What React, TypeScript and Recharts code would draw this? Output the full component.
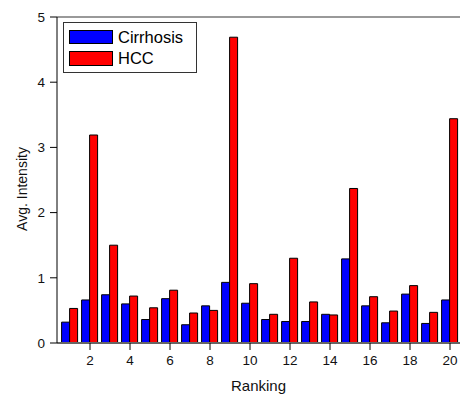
import { BarChart, Bar, XAxis, YAxis, Legend } from 'recharts';

const ranks = [1, 2, 3, 4, 5, 6, 7, 8, 9, 10, 11, 12, 13, 14, 15, 16, 17, 18, 19, 20];
const cirrhosis = [0.32, 0.66, 0.74, 0.6, 0.36, 0.68, 0.28, 0.57, 0.93, 0.61, 0.36, 0.33, 0.33, 0.44, 1.29, 0.57, 0.31, 0.75, 0.3, 0.66];
const hcc = [0.53, 3.19, 1.5, 0.72, 0.54, 0.81, 0.46, 0.5, 4.69, 0.91, 0.44, 1.3, 0.63, 0.43, 2.37, 0.71, 0.49, 0.88, 0.47, 3.44];
const xTicks = [2, 4, 6, 8, 10, 12, 14, 16, 18, 20];
const yTicks = [0, 1, 2, 3, 4, 5];
const yMinorTicks = [0.5, 1.5, 2.5, 3.5, 4.5];

const data = ranks.map((rank, i) => ({ rank, cirrhosis: cirrhosis[i], hcc: hcc[i] }));

const FONT = '"Liberation Sans", Arial, sans-serif';

const legendItems = [
  { name: 'Cirrhosis', color: '#0000ff' },
  { name: 'HCC', color: '#ff0000' },
];

// boxed legend sitting in the upper left of the plot
function BoxLegend() {
  return (
    <div
      style={{
        width: 132,
        height: 49,
        border: '1px solid #333',
        background: '#fff',
        fontFamily: FONT,
        fontSize: 16.5,
        color: '#000',
        position: 'relative',
      }}
    >
      {legendItems.map((item, i) => (
        <div
          key={item.name}
          style={{ position: 'absolute', left: 5, top: 6.5 + i * 21.7, display: 'flex', alignItems: 'center' }}
        >
          <div style={{ width: 42, height: 12.5, background: item.color, border: '1px solid #000' }} />
          <span style={{ marginLeft: 5, lineHeight: '14px' }}>{item.name}</span>
        </div>
      ))}
    </div>
  );
}

export default function App() {
  return (
    <div style={{ position: 'absolute', left: 0, top: 0, width: 460, height: 395, overflow: 'hidden', background: '#fff', fontFamily: FONT }}>
      <BarChart
        width={460}
        height={395}
        data={data}
        margin={{ top: 17, right: 0, bottom: 0, left: 0 }}
        barCategoryGap="8%"
        barGap={0}
      >
        <XAxis
          dataKey="rank"
          height={52}
          padding={{ left: 3, right: 0 }}
          ticks={xTicks}
          interval={0}
          tickSize={7}
          tickMargin={5}
          tick={{ fill: '#111', fontSize: 13.5 }}
          tickLine={{ stroke: '#000' }}
          axisLine={{ stroke: '#666', strokeWidth: 2 }}
          label={{ value: 'Ranking', position: 'insideBottom', offset: 4, fill: '#111', fontSize: 15 }}
        />
        {/* top frame with small inward ticks */}
        <XAxis
          xAxisId="top"
          dataKey="rank"
          orientation="top"
          mirror
          padding={{ left: 3, right: 0 }}
          interval={0}
          tickSize={3}
          tick={false}
          tickLine={{ stroke: '#333' }}
          axisLine={{ stroke: '#777', strokeWidth: 1.5 }}
        />
        <YAxis
          width={57}
          domain={[0, 5]}
          ticks={yTicks}
          interval={0}
          tickSize={7}
          tickMargin={5}
          tick={{ fill: '#111', fontSize: 13.5 }}
          tickLine={{ stroke: '#000' }}
          axisLine={{ stroke: '#000' }}
          label={{ value: 'Avg. Intensity', angle: -90, position: 'center', dx: -6, dy: 9, fill: '#111', fontSize: 14 }}
        />
        {/* minor ticks pointing into the plot */}
        <YAxis
          yAxisId="minor"
          mirror
          domain={[0, 5]}
          ticks={yMinorTicks}
          interval={0}
          tickSize={3}
          tick={false}
          tickLine={{ stroke: '#000' }}
          axisLine={false}
        />
        <YAxis
          yAxisId="right"
          orientation="right"
          width={0}
          domain={[0, 5]}
          tick={false}
          tickLine={false}
          axisLine={{ stroke: '#999' }}
        />
        <Legend
          layout="horizontal"
          verticalAlign="middle"
          align="center"
          content={() => <BoxLegend />}
          wrapperStyle={{ position: 'absolute', left: 63, top: 22, width: 134, height: 51 }}
        />
        <Bar dataKey="cirrhosis" name="Cirrhosis" fill="#0000ff" stroke="#000" strokeWidth={1} isAnimationActive={false} />
        <Bar dataKey="hcc" name="HCC" fill="#ff0000" stroke="#000" strokeWidth={1} isAnimationActive={false} />
      </BarChart>
    </div>
  );
}
